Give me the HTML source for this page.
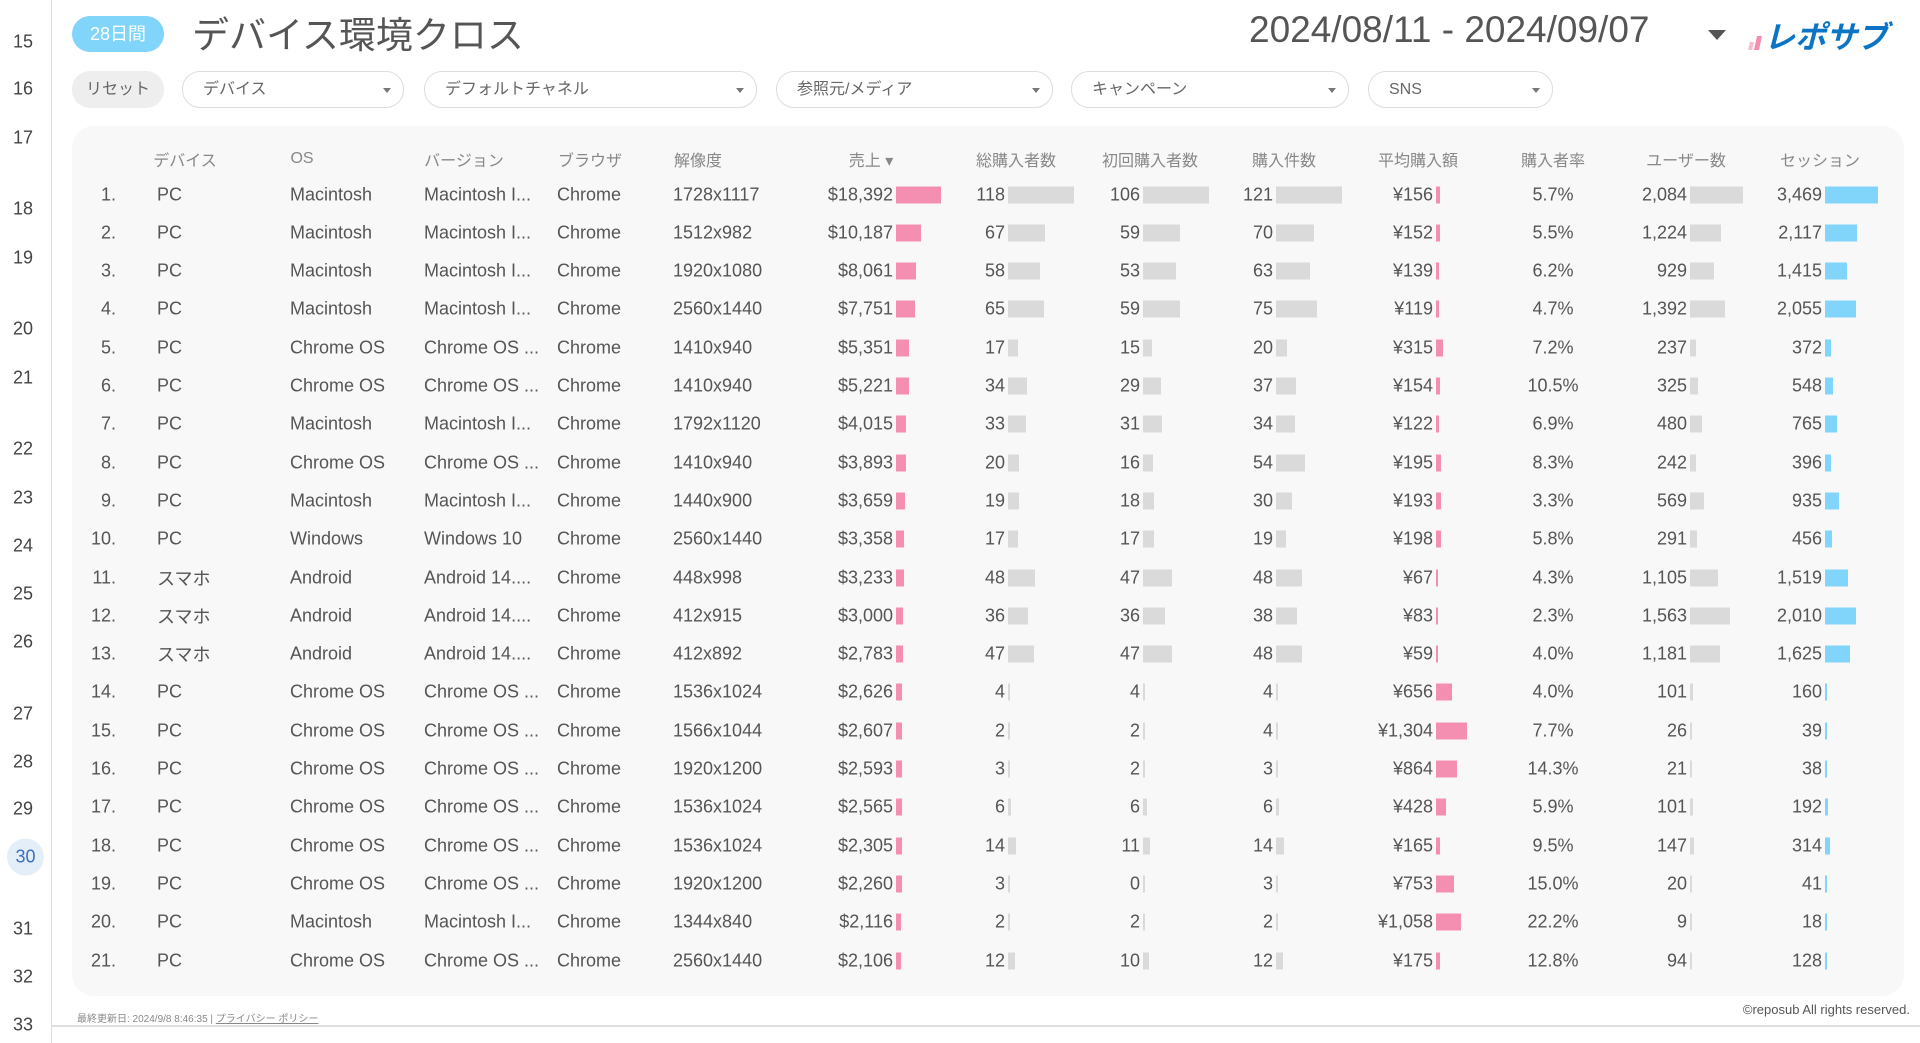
<!DOCTYPE html>
<html><head><meta charset="utf-8">
<style>
*{margin:0;padding:0;box-sizing:border-box}
body{width:1920px;height:1043px;background:#fff;position:relative;overflow:hidden;font-family:"Liberation Sans","Noto Sans CJK JP",sans-serif;color:#555}
.side{position:absolute;left:0;top:0;width:52px;height:1043px;border-right:1px solid #ddd;background:#fff}
.sn{position:absolute;left:0;width:46px;text-align:center;font-size:18px;color:#444;transform:translateY(-50%)}
.sel{position:absolute;left:7px;width:37px;height:37px;border-radius:50%;background:#e4eef9;transform:translateY(-50%);color:#3a6fc4;line-height:37px}
.abs{position:absolute}
.badge{left:72px;top:16px;width:92px;height:36px;border-radius:18px;background:#81d4fa;color:#fff;font-size:18px;text-align:center;line-height:36px}
.title{left:192px;top:5px;font-size:37px;color:#555}
.date{left:1249px;top:9px;font-size:37px;color:#555}
.tri{left:1708px;top:30px;width:0;height:0;border-left:9px solid transparent;border-right:9px solid transparent;border-top:10px solid #555}
.filt{position:absolute;top:71px;height:37px;border:1px solid #ddd;border-radius:18px;background:#fff;font-size:16px;color:#666;line-height:35px;padding-left:20px}
.filt:after{content:"";position:absolute;right:12px;top:16px;border-left:4px solid transparent;border-right:4px solid transparent;border-top:5px solid #777}
.reset{position:absolute;left:72px;top:71px;width:92px;height:37px;border-radius:18px;background:#eee;font-size:16px;color:#666;text-align:center;line-height:37px}
.panel{position:absolute;left:72px;top:126px;width:1832px;height:870px;background:#f8f8f8;border-radius:22px}
.t{position:absolute;font-size:18px;color:#555;white-space:nowrap;transform:translateY(-50%)}
.h{position:absolute;font-size:16px;color:#888;white-space:nowrap;transform:translate(-50%,-50%);top:159px}
.r{text-align:right}
.bar{position:absolute;height:17px;transform:translateY(-50%)}
.foot{left:77px;top:1010px;font-size:10px;color:#888}
.copy{right:10px;top:1002px;font-size:13px;color:#555}
.bline{position:absolute;left:52px;top:1025px;width:1868px;height:2px;background:#e0e0e0}
</style></head><body>
<div class="side" id="side"></div>
<div class="abs badge">28日間</div>
<div class="abs title">デバイス環境クロス</div>
<div class="abs date">2024/08/11 - 2024/09/07</div>
<div class="abs tri"></div>
<svg class="abs" style="left:1742px;top:16px" width="165" height="38" viewBox="0 0 165 38">
<polygon points="8,26 12,26 10,34 6,34" fill="#f8bbd0"/>
<polygon points="15,20 20,20 17,34 12,34" fill="#f48fb1"/>
<text x="22" y="32" font-family="Liberation Sans,Noto Sans CJK JP,sans-serif" font-size="31" font-weight="bold" font-style="italic" fill="#0b74c4">レポサブ</text>
</svg>
<div class="reset">リセット</div>
<div class="filt" style="left:182px;width:222px">デバイス</div>
<div class="filt" style="left:424px;width:333px">デフォルトチャネル</div>
<div class="filt" style="left:776px;width:277px">参照元/メディア</div>
<div class="filt" style="left:1071px;width:278px">キャンペーン</div>
<div class="filt" style="left:1368px;width:185px">SNS</div>
<div class="panel"></div>
<div id="tbl"></div>
<div class="abs foot">最終更新日: 2024/9/8 8:46:35 | <u>プライバシー ポリシー</u></div>
<div class="abs copy">©reposub All rights reserved.</div>
<div class="bline"></div>
<script>
var s=[[15,42],[16,89],[17,138],[18,209],[19,258],[20,329],[21,378],[22,449],[23,498],[24,546],[25,594],[26,642],[27,714],[28,762],[29,809],[30,857],[31,929],[32,977],[33,1025]];
var h='';s.forEach(function(a){if(a[0]==30)h+='<div class="sn sel" style="top:'+a[1]+'px;width:37px">30</div>';else h+='<div class="sn" style="top:'+a[1]+'px">'+a[0]+'</div>';});
document.getElementById('side').innerHTML=h;
var M='Macintosh',C='Chrome OS',MI='Macintosh I...',CI='Chrome OS ...',A='Android',AI='Android 14....',S='スマホ';
var d=[
['PC',M,MI,'1728x1117',18392,118,106,121,156,'5.7%',2084,3469],
['PC',M,MI,'1512x982',10187,67,59,70,152,'5.5%',1224,2117],
['PC',M,MI,'1920x1080',8061,58,53,63,139,'6.2%',929,1415],
['PC',M,MI,'2560x1440',7751,65,59,75,119,'4.7%',1392,2055],
['PC',C,CI,'1410x940',5351,17,15,20,315,'7.2%',237,372],
['PC',C,CI,'1410x940',5221,34,29,37,154,'10.5%',325,548],
['PC',M,MI,'1792x1120',4015,33,31,34,122,'6.9%',480,765],
['PC',C,CI,'1410x940',3893,20,16,54,195,'8.3%',242,396],
['PC',M,MI,'1440x900',3659,19,18,30,193,'3.3%',569,935],
['PC','Windows','Windows 10','2560x1440',3358,17,17,19,198,'5.8%',291,456],
[S,A,AI,'448x998',3233,48,47,48,67,'4.3%',1105,1519],
[S,A,AI,'412x915',3000,36,36,38,83,'2.3%',1563,2010],
[S,A,AI,'412x892',2783,47,47,48,59,'4.0%',1181,1625],
['PC',C,CI,'1536x1024',2626,4,4,4,656,'4.0%',101,160],
['PC',C,CI,'1566x1044',2607,2,2,4,1304,'7.7%',26,39],
['PC',C,CI,'1920x1200',2593,3,2,3,864,'14.3%',21,38],
['PC',C,CI,'1536x1024',2565,6,6,6,428,'5.9%',101,192],
['PC',C,CI,'1536x1024',2305,14,11,14,165,'9.5%',147,314],
['PC',C,CI,'1920x1200',2260,3,0,3,753,'15.0%',20,41],
['PC',M,MI,'1344x840',2116,2,2,2,1058,'22.2%',9,18],
['PC',C,CI,'2560x1440',2106,12,10,12,175,'12.8%',94,128]];
function f(n){return n.toLocaleString('en-US');}
var hd=[['デバイス',185],['OS',302],['バージョン',464],['ブラウザ',590],['解像度',698],['売上 ▾',871],['総購入者数',1016],['初回購入者数',1150],['購入件数',1284],['平均購入額',1418],['購入者率',1553],['ユーザー数',1686],['セッション',1820]];
var o='';hd.forEach(function(x){o+='<div class="h" style="left:'+x[1]+'px">'+x[0]+'</div>';});
function num(v,txt,right,bx,w,col){var s='<div class="t r" style="right:'+(1920-right)+'px;top:'+Y+'px">'+txt+'</div>';
 s+='<div class="bar" style="left:'+bx+'px;top:'+Y+'px;width:'+Math.max(w,1.5)+'px;background:'+col+'"></div>';return s;}
var Y;
d.forEach(function(r,i){Y=194.5+i*38.3;
o+='<div class="t r" style="right:'+(1920-116)+'px;top:'+Y+'px">'+(i+1)+'.</div>';
o+='<div class="t" style="left:157px;top:'+Y+'px">'+r[0]+'</div>';
o+='<div class="t" style="left:290px;top:'+Y+'px">'+r[1]+'</div>';
o+='<div class="t" style="left:424px;top:'+Y+'px">'+r[2]+'</div>';
o+='<div class="t" style="left:557px;top:'+Y+'px">Chrome</div>';
o+='<div class="t" style="left:673px;top:'+Y+'px">'+r[3]+'</div>';
var P='#f48fb1',G='#dadada',B='#81d4fa';
o+=num(0,'$'+f(r[4]),893,896,r[4]/18392*45,P);
o+=num(0,r[5],1005,1008,r[5]/118*66,G);
o+=num(0,r[6],1140,1143,r[6]/106*66,G);
o+=num(0,r[7],1273,1276,r[7]/121*66,G);
o+=num(0,'¥'+f(r[8]),1433,1436,r[8]/1304*31,P);
o+='<div class="t" style="left:1553px;top:'+Y+'px;transform:translate(-50%,-50%)">'+r[9]+'</div>';
o+=num(0,f(r[10]),1687,1690,r[10]/2084*53,G);
o+=num(0,f(r[11]),1822,1825,r[11]/3469*53,B);
});
document.getElementById('tbl').innerHTML=o;
</script>
</body></html>
